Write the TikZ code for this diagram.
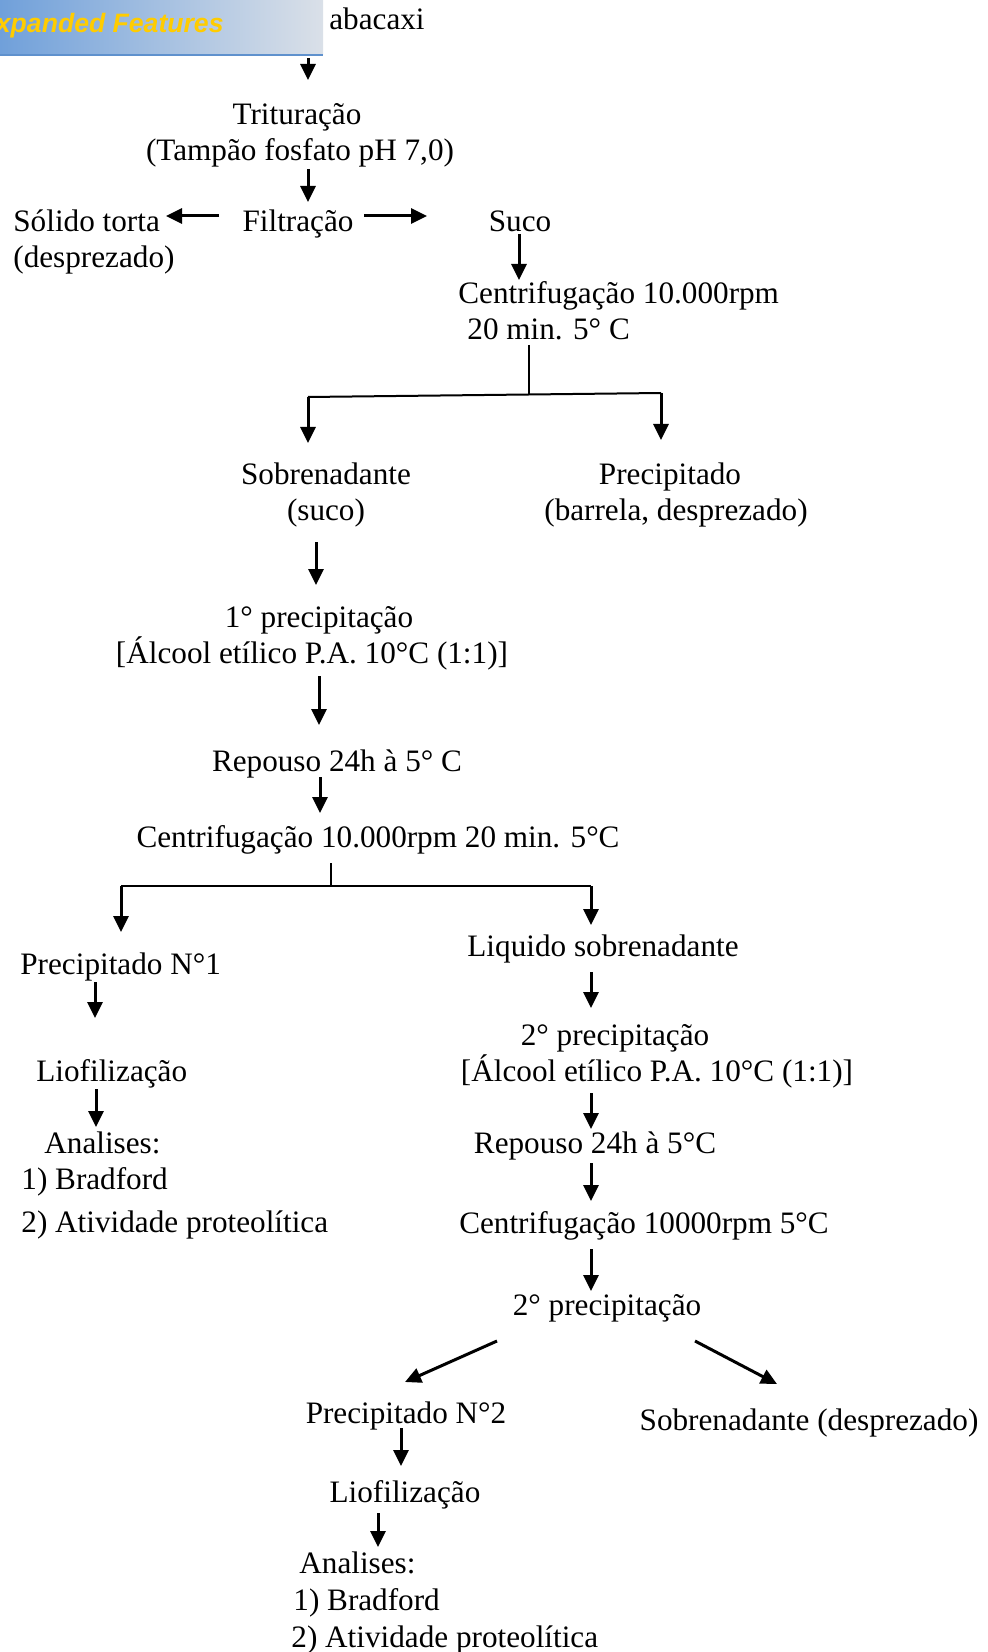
\documentclass[tikz,border=0pt]{standalone}
\usepackage{fontspec}
\setmainfont{Liberation Serif}
\newfontfamily\bannerfont{Liberation Sans}
\usetikzlibrary{arrows.meta}
\definecolor{bannerL}{RGB}{112,160,218}
\definecolor{bannerR}{RGB}{218,224,232}
\definecolor{bannerLine}{RGB}{95,145,205}
\definecolor{bannerText}{RGB}{255,204,0}
\begin{document}
\begin{tikzpicture}[x=0.5pt,y=-0.5pt,
  lbl/.style={inner sep=0pt, text height=0.7em, text depth=0.2em, font=\fontsize{15.6}{18}\selectfont},
  lw/.style={lbl, anchor=west},
  arr/.style={line width=1.5pt, -{Triangle[width=7.5pt,length=8pt]}},
  branch/.style={line width=1pt},
  stem/.style={line width=0.6pt}]
\useasboundingbox (0,0) rectangle (987,1652);
\clip (0,0) rectangle (987,1652);
% banner
\shade[left color=bannerL, right color=bannerR] (0,0) rectangle (323,55);
\draw[bannerLine, line width=1.2pt] (0,55) -- (323,55);
\node[inner sep=0pt, anchor=base east, text=bannerText, font=\bannerfont\bfseries\itshape\fontsize{13.3}{15}\selectfont] (banner) at (224,33) {Expanded Features};
% texts
\node[lbl] (abacaxi) at (377,25) {abacaxi};
\node[lbl] (trit) at (297,120) {Trituração};
\node[lbl] (tamp) at (300,156) {(Tampão fosfato pH 7,0)};
\node[lbl] (filt) at (298,227) {Filtração};
\node[lw] (solido) at (13,227) {Sólido torta};
\node[lw] (desp1) at (13,263) {(desprezado)};
\node[lbl] (suco) at (520,227) {Suco};
\node[lw] (centA) at (458,299) {Centrifugação 10.000rpm};
\node[lw] (centB) at (467,335) {20 min. 5° C};
\node[lbl] (sobre) at (326,479) {Sobrenadante};
\node[lbl] (suco2) at (326,515) {(suco)};
\node[lbl] (precip) at (670,479) {Precipitado};
\node[lbl] (barrela) at (676,515) {(barrela, desprezado)};
\node[lbl] (prec1) at (319,622) {1° precipitação};
\node[lbl] (alc1) at (312,658) {[Álcool etílico P.A. 10°C (1:1)]};
\node[lbl] (rep1) at (337,766) {Repouso 24h à 5° C};
\node[lbl] (cent2) at (378,842) {Centrifugação 10.000rpm 20 min. 5°C};
\node[lw] (pn1) at (20,969) {Precipitado N°1};
\node[lw] (lio1) at (36,1076) {Liofilização};
\node[lw] (an1) at (44,1148) {Analises:};
\node[lw] (brad1) at (21,1184) {1) Bradford};
\node[lw] (ativ1) at (21,1227) {2) Atividade proteolítica};
\node[lbl] (liq) at (603,951) {Liquido sobrenadante};
\node[lbl] (prec2) at (615,1040) {2° precipitação};
\node[lbl] (alc2) at (657,1076) {[Álcool etílico P.A. 10°C (1:1)]};
\node[lbl] (rep2) at (595,1148) {Repouso 24h à 5°C};
\node[lbl] (cent3) at (644,1228) {Centrifugação 10000rpm 5°C};
\node[lbl] (prec2b) at (607,1310) {2° precipitação};
\node[lbl] (pn2) at (406,1418) {Precipitado N°2};
\node[lbl] (sobdesp) at (809,1425) {Sobrenadante (desprezado)};
\node[lbl] (lio2) at (405,1497) {Liofilização};
\node[lw] (an2) at (299,1568) {Analises:};
\node[lw] (brad2) at (293,1605) {1) Bradford};
\node[lw] (ativ2) at (291,1642) {2) Atividade proteolítica};
% connector coordinates
\coordinate (a1s) at (308,58);   \coordinate (a1e) at (308,80);
\coordinate (a2s) at (308,169);  \coordinate (a2e) at (308,202);
\coordinate (aLs) at (219,216);  \coordinate (aLe) at (166,216);
\coordinate (aRs) at (364,216);  \coordinate (aRe) at (427,216);
\coordinate (a3s) at (519,234);  \coordinate (a3e) at (519,280);
\coordinate (b1t) at (529,345);  \coordinate (b1m) at (529,395);
\coordinate (b1l) at (308,397);  \coordinate (b1r) at (661,393);
\coordinate (b1le) at (308,443); \coordinate (b1re) at (661,440);
\coordinate (a4s) at (316,542);  \coordinate (a4e) at (316,585);
\coordinate (a5s) at (319,676);  \coordinate (a5e) at (319,725);
\coordinate (a6s) at (320,777);  \coordinate (a6e) at (320,813);
\coordinate (b2t) at (331,863);  \coordinate (b2m) at (331,885);
\coordinate (b2l) at (121,886);  \coordinate (b2r) at (591,886);
\coordinate (b2le) at (121,932); \coordinate (b2re) at (591,925);
\coordinate (a7s) at (95,982);   \coordinate (a7e) at (95,1018);
\coordinate (a8s) at (96,1089);  \coordinate (a8e) at (96,1127);
\coordinate (a9s) at (591,972);  \coordinate (a9e) at (591,1008);
\coordinate (a10s) at (591,1093); \coordinate (a10e) at (591,1129);
\coordinate (a11s) at (591,1163); \coordinate (a11e) at (591,1201);
\coordinate (a12s) at (591,1249); \coordinate (a12e) at (591,1291);
\coordinate (dLs) at (497,1341); \coordinate (dLe) at (405,1382);
\coordinate (dRs) at (695,1341); \coordinate (dRe) at (777,1384);
\coordinate (a13s) at (401,1428); \coordinate (a13e) at (401,1466);
\coordinate (a14s) at (378,1513); \coordinate (a14e) at (378,1547);
% connectors
\draw[arr] (a1s) -- (a1e);
\draw[arr] (a2s) -- (a2e);
\draw[arr] (aLs) -- (aLe);
\draw[arr] (aRs) -- (aRe);
\draw[arr] (a3s) -- (a3e);
\draw[stem] (b1t) -- (b1m);
\draw[branch] (b1l) -- (b1r);
\draw[arr] (b1l) -- (b1le);
\draw[arr] (b1r) -- (b1re);
\draw[arr] (a4s) -- (a4e);
\draw[arr] (a5s) -- (a5e);
\draw[arr] (a6s) -- (a6e);
\draw[stem] (b2t) -- (b2m);
\draw[branch] (b2l) -- (b2r);
\draw[arr] (b2l) -- (b2le);
\draw[arr] (b2r) -- (b2re);
\draw[arr] (a7s) -- (a7e);
\draw[arr] (a8s) -- (a8e);
\draw[arr] (a9s) -- (a9e);
\draw[arr] (a10s) -- (a10e);
\draw[arr] (a11s) -- (a11e);
\draw[arr] (a12s) -- (a12e);
\draw[arr] (dLs) -- (dLe);
\draw[arr] (dRs) -- (dRe);
\draw[arr] (a13s) -- (a13e);
\draw[arr] (a14s) -- (a14e);
\end{tikzpicture}
\end{document}
